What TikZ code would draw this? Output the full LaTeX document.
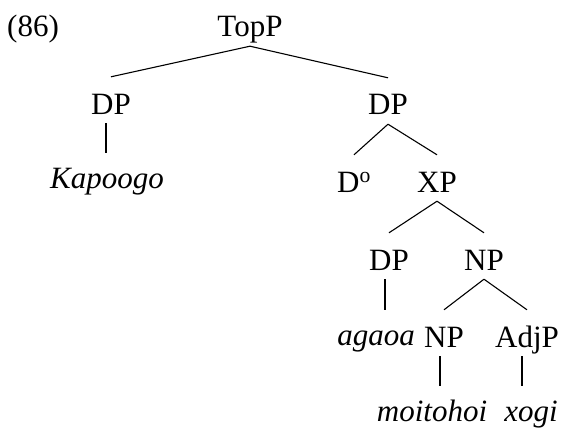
\documentclass[tikz,border=0pt]{standalone}
\usepackage{fontspec}
\setmainfont{Liberation Serif}
\begin{document}
\begin{tikzpicture}[x=1pt,y=-1pt,
  every node/.style={inner sep=0pt,anchor=base,font=\fontsize{31}{36}\selectfont},
  cat/.style={text height=37pt,text depth=9pt},
  word/.style={text height=35pt,text depth=9pt,font=\fontsize{31}{36}\selectfont\itshape},
  branch/.style={line width=1.1pt}]
\useasboundingbox (0,0) rectangle (563,428);
\node[anchor=base west] (ex) at (7,37) {(86)};
\node[cat] (top) at (250,37) {TopP};
\node[cat] (dp1) at (111,114) {DP};
\node[word] (kap) at (107,188) {Kapoogo};
\node[cat] (dp2) at (388,115) {DP};
\node[cat] (d0) at (354,192) {D\textsuperscript{o}};
\node[cat] (xp) at (437,192) {XP};
\node[cat] (dp3) at (389,270) {DP};
\node[cat] (np1) at (484,270) {NP};
\node[word] (aga) at (376,345) {agaoa};
\node[cat] (np2) at (444,347) {NP};
\node[cat] (adj) at (527,347) {AdjP};
\node[word,text depth=7pt] (moi) at (432,421) {moitohoi};
\node[word,text depth=7pt] (xog) at (531,421) {xogi};
\draw[branch] (top.south) -- (dp1.north);
\draw[branch] (top.south) -- (dp2.north);
\draw[branch] ([xshift=-5pt]dp1.south) -- ([xshift=-5pt]dp1.south |- kap.north);
\draw[branch] (dp2.south) -- (d0.north);
\draw[branch] (dp2.south) -- (xp.north);
\draw[branch] (xp.south) -- (dp3.north);
\draw[branch] (xp.south) -- (np1.north);
\draw[branch] ([xshift=-4pt]dp3.south) -- ([xshift=-4pt]dp3.south |- aga.north);
\draw[branch] (np1.south) -- (np2.north);
\draw[branch] (np1.south) -- (adj.north);
\draw[branch] ([xshift=-4pt]np2.south) -- ([xshift=-4pt]np2.south |- moi.north);
\draw[branch] ([xshift=-5pt]adj.south) -- ([xshift=-5pt]adj.south |- xog.north);
\end{tikzpicture}
\end{document}
